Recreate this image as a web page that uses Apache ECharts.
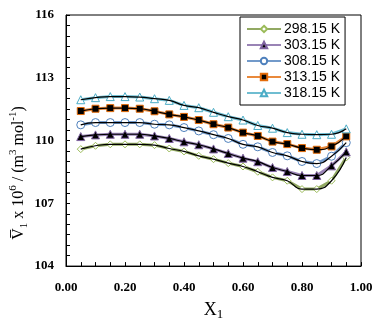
<!DOCTYPE html>
<html>
<head>
    <meta charset="utf-8">
    <title>V1 vs X1</title>
    <style>
        html, body { margin: 0; padding: 0; background: #fff; }
        #chart { width: 380px; height: 326px; }
    </style>
</head>
<body>
<div id="chart"></div>
<script src="https://cdn.jsdelivr.net/npm/echarts@6/dist/echarts.min.js"></script>
<script>
    // mole fraction X1
    var x1 = [0.05, 0.10, 0.15, 0.20, 0.25, 0.30, 0.35, 0.40, 0.45, 0.50,
              0.55, 0.60, 0.65, 0.70, 0.75, 0.80, 0.85, 0.90, 0.95];

    var seriesNames = ['298.15 K', '303.15 K', '308.15 K', '313.15 K', '318.15 K'];

    var v298 = [109.59, 109.75, 109.82, 109.82, 109.82, 109.78, 109.62, 109.48, 109.27, 109.11,
                108.92, 108.76, 108.51, 108.24, 108.08, 107.68, 107.68, 108.08, 109.19];
    var v303 = [110.19, 110.27, 110.30, 110.30, 110.30, 110.22, 110.10, 109.94, 109.80, 109.60,
                109.38, 109.16, 108.99, 108.71, 108.52, 108.33, 108.33, 108.79, 109.46];
    var v308 = [110.75, 110.86, 110.86, 110.86, 110.86, 110.78, 110.75, 110.62, 110.46, 110.28,
                110.10, 109.82, 109.70, 109.43, 109.27, 109.00, 108.90, 109.25, 109.90];
    var v313 = [111.41, 111.52, 111.55, 111.55, 111.52, 111.40, 111.25, 111.13, 110.98, 110.78,
                110.62, 110.38, 110.22, 109.95, 109.83, 109.64, 109.56, 109.72, 110.20];
    var v318 = [111.95, 112.05, 112.10, 112.10, 112.08, 112.00, 111.92, 111.68, 111.57, 111.35,
                111.14, 110.98, 110.72, 110.59, 110.38, 110.30, 110.28, 110.30, 110.56];

    var yTicks = [104, 107, 110, 113, 116];
    var xTicks = [0, 0.2, 0.4, 0.6, 0.8, 1.0];

    function pairs(vals) {
        var out = [];
        for (var i = 0; i < x1.length; i++) {
            out.push([x1[i], vals[i]]);
        }
        return out;
    }

    // one style per temperature: line colour, marker, marker fill, marker border
    var styles = [
        {line: '#77933C', symbol: 'diamond', size: 7, fill: '#fff', border: '#9BBB59'},
        {line: '#8064A2', symbol: 'triangle', size: 8, fill: '#000', border: '#8064A2'},
        {line: '#4F81BD', symbol: 'circle', size: 8, fill: '#fff', border: '#4F81BD'},
        {line: '#E46C0A', symbol: 'rect', size: 7, fill: '#000', border: '#E46C0A'},
        {line: '#4BACC6', symbol: 'triangle', size: 8, fill: '#fff', border: '#4BACC6'}
    ];
    var allValues = [v298, v303, v308, v313, v318];

    var series = [];
    // experimental points, joined by coloured lines
    for (var k = 0; k < allValues.length; k++) {
        var st = styles[k];
        series.push({
            name: seriesNames[k],
            type: 'line',
            data: pairs(allValues[k]),
            symbol: st.symbol,
            symbolSize: st.size,
            showAllSymbol: true,
            lineStyle: {color: st.line, width: 3, opacity: 0.8},
            itemStyle: {color: st.fill, borderColor: st.border, borderWidth: 1},
            z: 2
        });
    }
    // fitted curves drawn in black over the points
    for (var j = 0; j < allValues.length; j++) {
        series.push({
            type: 'line',
            data: pairs(allValues[j]),
            smooth: 0.5,
            symbol: 'none',
            lineStyle: {color: '#000', width: 1.2},
            silent: true,
            z: 3
        });
    }

    var chart = echarts.init(document.getElementById('chart'));

    var option = {
        animation: false,
        backgroundColor: '#fff',
        grid: {
            left: 66,
            top: 15,
            right: 19,
            bottom: 57,
            show: true,
            borderColor: '#000',
            borderWidth: 1
        },
        legend: {
            data: seriesNames,
            orient: 'vertical',
            left: 240,
            top: 17,
            padding: [5, 5, 5, 6],
            itemWidth: 34,
            itemHeight: 8,
            itemGap: 2,
            borderColor: '#000',
            borderWidth: 1,
            backgroundColor: '#fff',
            textStyle: {
                fontFamily: 'Liberation Sans, Arial, sans-serif',
                fontSize: 14,
                color: '#000',
                padding: [0, 0, 0, -2]
            }
        },
        xAxis: {
            type: 'value',
            min: 0,
            max: 1,
            interval: 0.2,
            name: '{a|X}{b|1}',
            nameLocation: 'middle',
            nameGap: 28,
            nameTextStyle: {
                rich: {
                    a: {fontFamily: 'Liberation Serif, Times New Roman, serif', fontSize: 18, color: '#000', verticalAlign: 'middle', lineHeight: 20},
                    b: {fontFamily: 'Liberation Serif, Times New Roman, serif', fontSize: 13, color: '#000', verticalAlign: 'middle', lineHeight: 20, padding: [9, 0, 0, 0]}
                }
            },
            axisLine: {onZero: false, lineStyle: {color: '#000', width: 1}},
            axisTick: {inside: true, length: 4, lineStyle: {color: '#000'}},
            minorTick: {show: true, splitNumber: 4, length: 4, lineStyle: {color: '#000'}},
            splitLine: {show: false},
            axisLabel: {
                margin: 15,
                fontFamily: 'Liberation Serif, Times New Roman, serif',
                fontWeight: 'bold',
                fontSize: 13,
                color: '#000',
                customValues: xTicks,
                formatter: function (v) { return v.toFixed(2); }
            }
        },
        yAxis: {
            type: 'value',
            min: 104,
            max: 116,
            interval: 3,
            axisLine: {show: true, onZero: false, lineStyle: {color: '#000', width: 1}},
            axisTick: {inside: true, length: 4, lineStyle: {color: '#000'}},
            minorTick: {show: true, splitNumber: 6, length: 4, lineStyle: {color: '#000'}},
            splitLine: {show: false},
            axisLabel: {
                margin: 12,
                fontFamily: 'Liberation Serif, Times New Roman, serif',
                fontWeight: 'bold',
                fontSize: 13,
                color: '#000',
                customValues: yTicks
            }
        },
        graphic: [{
            type: 'text',
            x: 19,
            y: 173,
            rotation: Math.PI / 2,
            style: {
                text: '{n|V\u0305}{s|1}{n| x 10}{p|6}{n| / (m}{p|3}{n| mol}{p|-1}{n|)}',
                align: 'center',
                verticalAlign: 'middle',
                rich: {
                    n: {fontFamily: 'Liberation Serif, Times New Roman, serif', fontSize: 16, fill: '#000', lineHeight: 22, verticalAlign: 'middle'},
                    s: {fontFamily: 'Liberation Serif, Times New Roman, serif', fontSize: 11, fill: '#000', lineHeight: 22, verticalAlign: 'bottom'},
                    p: {fontFamily: 'Liberation Serif, Times New Roman, serif', fontSize: 11, fill: '#000', lineHeight: 22, verticalAlign: 'top'}
                }
            }
        }],
        series: series
    };

    chart.setOption(option);
</script>
</body>
</html>
